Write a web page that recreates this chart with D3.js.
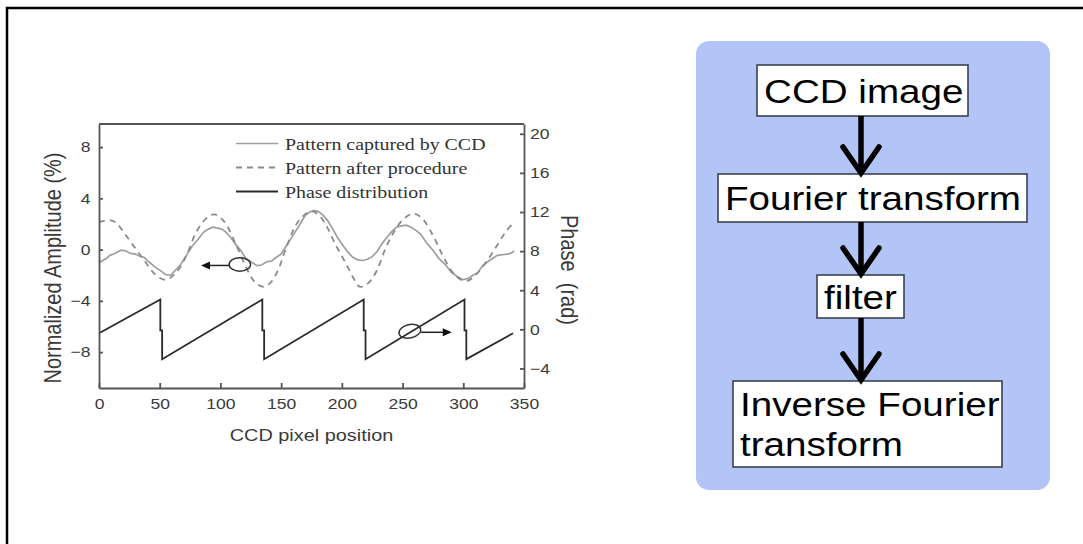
<!DOCTYPE html>
<html>
<head>
<meta charset="utf-8">
<script src="https://cdn.jsdelivr.net/npm/d3@7"></script>
<style>
	html, body { margin: 0; padding: 0; background: #fff; }
	svg { display: block; }
	.axis text { font-family: "Liberation Sans", Arial, sans-serif; font-size: 15px; fill: #3a3a3a; }
	.axis path, .axis line { stroke: #555; stroke-width: 1.8; }
</style>
</head>
<body>
<div id="chart"></div>
<script>
"use strict";

// == DATA ==
// pattern captured by CCD (left axis, %)
var ccdX = [0, 3, 6, 9, 13, 18, 22, 26, 30, 33, 37, 41, 46, 50, 55, 59, 63, 67, 72, 77,
	82, 86, 90, 94, 97, 101, 104, 108, 113, 117, 121, 126, 130, 134, 138, 142, 146, 150, 155, 160,
	165, 170, 174, 177, 180, 184, 188, 192, 196, 201, 205, 209, 213, 217, 221, 225, 229, 233, 237, 241,
	245, 249, 253, 257, 261, 265, 270, 275, 280, 285, 290, 295, 300, 304, 308, 312, 316, 320, 324, 328,
	332, 336, 339, 342];
var ccdY = [-1.05, -0.85, -0.7, -0.45, -0.3, -0.05, -0.1, -0.3, -0.35, -0.5, -0.6, -0.95, -1.35, -1.6, -1.95, -2.0, -1.6, -1.2, -0.45, 0.3,
	0.85, 1.35, 1.6, 1.75, 1.7, 1.6, 1.4, 1.0, 0.35, -0.1, -0.7, -1.0, -1.25, -1.2, -0.95, -0.9, -0.6, -0.35, 0.4, 1.15,
	1.9, 2.7, 2.95, 3.05, 3.0, 2.75, 2.3, 1.7, 1.0, 0.3, -0.2, -0.6, -0.8, -0.85, -0.75, -0.55, -0.15, 0.45, 0.95, 1.4,
	1.75, 1.85, 1.9, 1.75, 1.5, 1.2, 0.5, -0.05, -0.7, -1.15, -1.75, -2.1, -2.35, -2.25, -2.0, -1.8, -1.25, -0.95, -0.7, -0.45,
	-0.4, -0.35, -0.3, -0.1];

// pattern after procedure (left axis, %)
var procX = [0, 8, 14, 20, 28, 38, 47, 55, 64, 72, 80, 88, 95, 103, 113, 121, 128, 135, 141, 147,
	154, 162, 168, 175, 181, 187, 195, 204, 210, 215, 222, 229, 236, 243, 251, 259, 266, 275, 283, 291,
	298, 303, 310, 319, 327, 335, 341];
var procY = [2.15, 2.3, 2.1, 1.4, 0.35, -0.95, -2.0, -2.35, -1.75, -0.45, 1.35, 2.4, 2.75, 2.2, 0.35, -1.35, -2.5, -2.9, -2.6, -1.7,
	0.1, 1.9, 2.6, 3.0, 2.7, 1.9, 0.35, -1.2, -2.3, -2.9, -2.6, -1.6, 0.1, 1.4, 2.4, 2.8, 2.45, 1.1, -0.45, -1.75,
	-2.35, -2.45, -2.0, -0.95, 0.2, 1.4, 2.05];

// phase distribution (right axis, rad)
var phaseX = [0, 50.5, 50.5, 52, 52, 134.5, 134.5, 136, 136, 218, 218, 219.5, 219.5, 301, 301, 302.5, 302.5, 341];
var phaseY = [-0.4, 3.05, -0.1, -0.1, -3.05, 3.05, -0.1, -0.1, -3.05, 3.05, -0.1, -0.1, -3.05, 3.05, -0.1, -0.1, -3.05, -0.4];

var xTicks = [0, 50, 100, 150, 200, 250, 300, 350];
var leftTicks = [-8, -4, 0, 4, 8];
var rightTicks = [-4, 0, 4, 8, 12, 16, 20];

var legendLabels = ["Pattern captured by CCD", "Pattern after procedure", "Phase distribution"];

// ellipse + arrow telling which axis the curves belong to
var markerSide = ["left", "right"];
var markerX = [116, 256];
var markerY = [-1.16, -0.2];   // in units of that side's axis
var markerTipX = [84, 290.5];

// flow chart steps, one entry per box, one string per text line
var steps = [["CCD image"], ["Fourier transform"], ["filter"], ["Inverse Fourier", "transform"]];

// == DRAWING ==
var SX = 1.17; // the source picture is stretched sideways, text included

var svg = d3.select("#chart")
	.append("svg")
	.attr("width", 1083)
	.attr("height", 544);

// page frame (only left and top edges are in the picture)
svg.append("path")
	.attr("d", "M7,544V8H1083")
	.attr("fill", "none")
	.attr("stroke", "#000")
	.attr("stroke-width", 2.5);

function stretched(sel, tx, ty, rot) {
	return sel.attr("transform", "translate(" + tx + "," + ty + ") scale(" + SX + ",1)" + (rot ? " rotate(" + rot + ")" : ""));
}

function stretchTicks(g) {
	g.selectAll(".tick text").each(function () {
		var t = d3.select(this);
		t.attr("x", (+t.attr("x") || 0) / SX).attr("transform", "scale(" + SX + ",1)");
	});
}

var plot = { left: 99, right: 524, top: 124, bottom: 388 };

var x = d3.scaleLinear().domain([0, 350]).range([plot.left, plot.right]);
var yL = d3.scaleLinear().domain([-10.8, 9.8]).range([plot.bottom, plot.top]);
var yR = d3.scaleLinear().domain([-6, 21]).range([plot.bottom, plot.top]);

var zip = function (xs, ys) { return xs.map(function (v, i) { return [v, ys[i]]; }); };

var lineL = d3.line().x(function (d) { return x(d[0]); }).y(function (d) { return yL(d[1]); });
var lineR = d3.line().x(function (d) { return x(d[0]); }).y(function (d) { return yR(d[1]); });

// curves
svg.append("path")
	.attr("d", lineL.curve(d3.curveLinear)(zip(ccdX, ccdY)))
	.attr("fill", "none")
	.attr("stroke", "#9e9e9e")
	.attr("stroke-width", 1.7);

svg.append("path")
	.attr("d", d3.line().x(function (d) { return x(d[0]); }).y(function (d) { return yL(d[1]); })
		.curve(d3.curveCatmullRom)(zip(procX, procY)))
	.attr("fill", "none")
	.attr("stroke", "#8a8a8a")
	.attr("stroke-width", 1.8)
	.attr("stroke-dasharray", "6,5");

svg.append("path")
	.attr("d", lineR(zip(phaseX, phaseY)))
	.attr("fill", "none")
	.attr("stroke", "#2a2a2a")
	.attr("stroke-width", 1.8);

// axes
var gx = svg.append("g").attr("class", "axis")
	.attr("transform", "translate(0," + plot.bottom + ")")
	.call(d3.axisBottom(x).tickValues(xTicks).tickSize(-5).tickSizeOuter(0).tickPadding(10));
stretchTicks(gx);

var gl = svg.append("g").attr("class", "axis")
	.attr("transform", "translate(" + plot.left + ",0)")
	.call(d3.axisLeft(yL).tickValues(leftTicks).tickSize(-4).tickSizeOuter(0).tickPadding(8.5));
stretchTicks(gl);

var gr = svg.append("g").attr("class", "axis")
	.attr("transform", "translate(" + plot.right + ",0)")
	.call(d3.axisRight(yR).tickValues(rightTicks).tickSize(-4).tickSizeOuter(0).tickPadding(6));
stretchTicks(gr);

// top edge of the plot box
svg.append("line")
	.attr("x1", plot.left).attr("x2", plot.right)
	.attr("y1", plot.top).attr("y2", plot.top)
	.attr("stroke", "#555").attr("stroke-width", 1.8);

// axis titles
stretched(svg.append("text"), (plot.left + plot.right) / 2, 441)
	.attr("text-anchor", "middle")
	.style("font", "17px 'Liberation Sans', Arial, sans-serif")
	.style("fill", "#3a3a3a")
	.text("CCD pixel position");

stretched(svg.append("text"), 61, 268, -90)
	.attr("text-anchor", "middle")
	.style("font", "20px 'Liberation Sans', Arial, sans-serif")
	.style("fill", "#3a3a3a")
	.text("Normalized Amplitude (%)");

stretched(svg.append("text"), 561, 270, 90)
	.attr("text-anchor", "middle")
	.style("font", "20px 'Liberation Sans', Arial, sans-serif")
	.style("fill", "#3a3a3a")
	.style("white-space", "pre")
	.text("Phase  (rad)");

// legend
var legendStyles = [
	{ stroke: "#9e9e9e", dash: null, width: 1.7 },
	{ stroke: "#8a8a8a", dash: "6,5", width: 1.8 },
	{ stroke: "#2a2a2a", dash: null, width: 1.8 }
];
var legend = svg.append("g");
legendLabels.forEach(function (label, i) {
	var ly = 143.5 + i * 24;
	legend.append("line")
		.attr("x1", 236).attr("x2", 278)
		.attr("y1", ly).attr("y2", ly)
		.attr("stroke", legendStyles[i].stroke)
		.attr("stroke-width", legendStyles[i].width)
		.attr("stroke-dasharray", legendStyles[i].dash);
	stretched(legend.append("text"), 285, ly + 6)
		.style("font", "17px 'Liberation Serif', 'Times New Roman', serif")
		.style("fill", "#333")
		.text(label);
});

// ellipse + arrow markers
var markers = svg.append("g");
markerSide.forEach(function (side, i) {
	var ys = side === "left" ? yL : yR,
		cx = x(markerX[i]),
		cy = ys(markerY[i]),
		rx = side === "left" ? 10.7 : 11,
		ry = 6.7,
		dir = side === "left" ? -1 : 1,
		tip = x(markerTipX[i]);
	markers.append("ellipse")
		.attr("cx", cx).attr("cy", cy)
		.attr("rx", rx).attr("ry", ry)
		.attr("transform", side === "right" ? "rotate(-12," + cx + "," + cy + ")" : null)
		.attr("fill", "none")
		.attr("stroke", "#333")
		.attr("stroke-width", 1.5);
	markers.append("line")
		.attr("x1", cx + dir * rx).attr("x2", tip - dir * 6)
		.attr("y1", cy + 1).attr("y2", cy + 1)
		.attr("stroke", "#222").attr("stroke-width", 1.5);
	markers.append("path")
		.attr("d", "M" + tip + "," + (cy + 1) + "L" + (tip - dir * 9) + "," + (cy - 3) + "L" + (tip - dir * 9) + "," + (cy + 5) + "Z")
		.attr("fill", "#111");
});

// == FLOW CHART ==
var panel = { x: 696, y: 41, w: 354, h: 449 };
svg.append("rect")
	.attr("x", panel.x).attr("y", panel.y)
	.attr("width", panel.w).attr("height", panel.h)
	.attr("rx", 13).attr("ry", 13)
	.attr("fill", "#b3c5f6");

var boxes = [
	{ x: 757, y: 65, w: 211, h: 51 },
	{ x: 718, y: 174, w: 309, h: 48 },
	{ x: 817, y: 275, w: 87, h: 43 },
	{ x: 733, y: 381, w: 269, h: 86 }
];
var arrowX = 861;

steps.forEach(function (lines, i) {
	var b = boxes[i];
	svg.append("rect")
		.attr("x", b.x).attr("y", b.y)
		.attr("width", b.w).attr("height", b.h)
		.attr("fill", "#fff")
		.attr("stroke", "#3a4150")
		.attr("stroke-width", 1.6);
	var first = b.y + b.h / 2 + 12 - (lines.length - 1) * 20;
	lines.forEach(function (t, j) {
		stretched(svg.append("text"), b.x + 7, first + j * 40)
			.style("font", "33px 'Liberation Sans', Arial, sans-serif")
			.style("fill", "#000")
			.text(t);
	});
	if (i > 0) {
		var y0 = boxes[i - 1].y + boxes[i - 1].h,
			y1 = b.y;
		svg.append("line")
			.attr("x1", arrowX).attr("x2", arrowX)
			.attr("y1", y0).attr("y2", y1 - 2)
			.attr("stroke", "#000").attr("stroke-width", 5.5);
		svg.append("path")
			.attr("d", "M" + (arrowX - 18) + "," + (y1 - 27) + "L" + arrowX + "," + (y1 - 1) + "L" + (arrowX + 18) + "," + (y1 - 27))
			.attr("fill", "none")
			.attr("stroke", "#000")
			.attr("stroke-width", 5.5)
			.attr("stroke-linecap", "round");
	}
});
</script>
</body>
</html>
